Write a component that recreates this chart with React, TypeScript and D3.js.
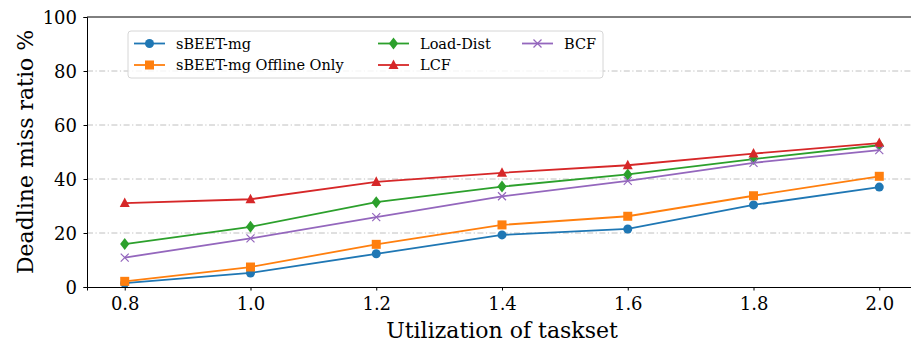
import React, { useEffect, useRef } from 'react';
import * as d3 from 'd3';

// chart data
const utilization = [0.8, 1.0, 1.2, 1.4, 1.6, 1.8, 2.0];
const sbeetMg = [1.4, 5.2, 12.3, 19.3, 21.5, 30.4, 37.0];
const sbeetOffline = [2.1, 7.4, 15.8, 23.0, 26.2, 33.8, 41.0];
const loadDist = [15.9, 22.3, 31.4, 37.2, 41.7, 47.4, 52.5];
const lcf = [31.1, 32.5, 38.9, 42.3, 45.1, 49.4, 53.3];
const bcf = [10.9, 18.0, 25.9, 33.6, 39.3, 46.0, 50.7];
const xTicks = [0.8, 1.0, 1.2, 1.4, 1.6, 1.8, 2.0];
const yTicks = [0, 20, 40, 60, 80, 100];

const series = [
  { name: 'sBEET-mg', values: sbeetMg, color: '#1f77b4', marker: 'circle' },
  { name: 'sBEET-mg Offline Only', values: sbeetOffline, color: '#ff7f0e', marker: 'square' },
  { name: 'Load-Dist', values: loadDist, color: '#2ca02c', marker: 'diamond' },
  { name: 'LCF', values: lcf, color: '#d62728', marker: 'triangle' },
  { name: 'BCF', values: bcf, color: '#9467bd', marker: 'x' },
];

const W = 911;
const H = 343;
const margin = { left: 87, top: 17, right: 917, bottom: 287 };
const FONT = "'DejaVu Serif', serif";

function drawMarker(g: any, type: string, color: string) {
  if (type === 'circle') {
    g.append('circle').attr('r', 4.5).attr('fill', color);
  } else if (type === 'square') {
    g.append('rect').attr('x', -4.5).attr('y', -4.5).attr('width', 9).attr('height', 9).attr('fill', color);
  } else if (type === 'diamond') {
    g.append('path').attr('d', 'M0,-6L4.6,0L0,6L-4.6,0Z').attr('fill', color);
  } else if (type === 'triangle') {
    g.append('path').attr('d', 'M0,-5.6L5,4L-5,4Z').attr('fill', color);
  } else {
    g.append('path').attr('d', 'M-4,-4L4,4M-4,4L4,-4')
      .attr('stroke', color).attr('stroke-width', 1.2).attr('fill', 'none');
  }
}

export default function App() {
  const svgRef = useRef<SVGSVGElement>(null);

  useEffect(() => {
    const svg = d3.select(svgRef.current);
    svg.selectAll('*').remove();

    const x = d3.scaleLinear().domain([0.74, 2.06]).range([margin.left, margin.right]);
    const y = d3.scaleLinear().domain([0, 100]).range([margin.bottom, margin.top]);

    // grid
    svg.append('g').selectAll('line').data(yTicks.filter(t => t > 0 && t < 100)).join('line')
      .attr('x1', margin.left).attr('x2', margin.right)
      .attr('y1', d => y(d)).attr('y2', d => y(d))
      .attr('stroke', '#b0b0b0').attr('stroke-width', 0.8)
      .attr('stroke-dasharray', '6,2.5,1.2,2.5');

    // lines + markers
    const line = d3.line<number>().x((_, i) => x(utilization[i])).y(d => y(d));
    series.forEach(s => {
      svg.append('path').datum(s.values).attr('d', line)
        .attr('fill', 'none').attr('stroke', s.color).attr('stroke-width', 1.8);
      s.values.forEach((v, i) => {
        const g = svg.append('g').attr('transform', `translate(${x(utilization[i])},${y(v)})`);
        drawMarker(g, s.marker, s.color);
      });
    });

    // axes
    const xAxis = svg.append('g').attr('transform', `translate(0,${margin.bottom})`)
      .call(d3.axisBottom(x).tickValues(xTicks).tickFormat(d3.format('.1f')).tickSize(3.5));
    const yAxis = svg.append('g').attr('transform', `translate(${margin.left},0)`)
      .call(d3.axisLeft(y).tickValues(yTicks).tickFormat(d3.format('d')).tickSize(3.5));
    [xAxis, yAxis].forEach(a => {
      a.attr('font-family', null).style('font-family', FONT).attr('font-size', null);
      a.select('.domain').attr('stroke', '#000').attr('stroke-width', 1);
      a.selectAll('.tick line').attr('stroke', '#000');
      a.selectAll('.tick text').style('font-family', FONT).style('font-size', '18px').attr('fill', '#000');
    });
    xAxis.selectAll('.tick text').attr('dy', 0).attr('y', 23);
    yAxis.selectAll('.tick text').attr('x', -10).attr('dy', '0.36em');
    // top spine
    svg.append('line').attr('x1', margin.left).attr('x2', margin.right)
      .attr('y1', margin.top).attr('y2', margin.top).attr('stroke', '#000');

    // axis labels
    svg.append('text').attr('x', (margin.left + margin.right) / 2).attr('y', 338)
      .attr('text-anchor', 'middle').style('font-family', FONT).style('font-size', '22px')
      .text('Utilization of taskset');
    svg.append('text').attr('transform', `translate(33,${(margin.top + margin.bottom) / 2}) rotate(-90)`)
      .attr('text-anchor', 'middle').style('font-family', FONT).style('font-size', '22px')
      .text('Deadline miss ratio %');

    // legend
    const lg = svg.append('g');
    lg.append('rect').attr('x', 128).attr('y', 31).attr('width', 475).attr('height', 47)
      .attr('rx', 3).attr('fill', 'rgba(255,255,255,0.8)').attr('stroke', '#d6d6d6');
    const cols = [134, 378, 522];
    const rows = [43.5, 65];
    series.forEach((s, i) => {
      const cx = cols[Math.floor(i / 2)];
      const cy = rows[i % 2];
      lg.append('line').attr('x1', cx).attr('x2', cx + 31).attr('y1', cy).attr('y2', cy)
        .attr('stroke', s.color).attr('stroke-width', 1.8);
      drawMarker(lg.append('g').attr('transform', `translate(${cx + 15.5},${cy})`), s.marker, s.color);
      lg.append('text').attr('x', cx + 42).attr('y', cy).attr('dy', '0.36em')
        .style('font-family', FONT).style('font-size', '14.5px').text(s.name);
    });
  }, []);

  return (
    <svg ref={svgRef} width={W} height={H}
      style={{ position: 'absolute', left: 0, top: 0, background: '#fff' }} />
  );
}
